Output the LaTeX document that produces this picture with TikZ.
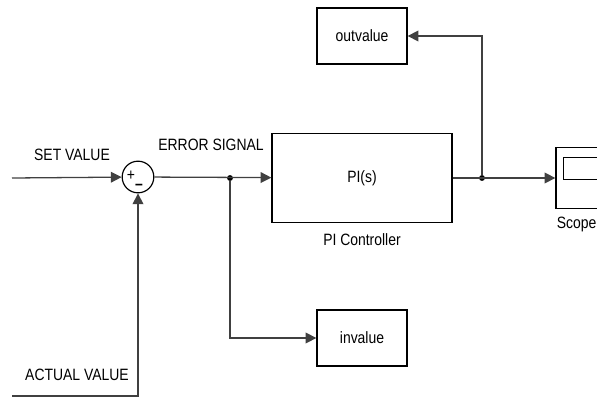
\documentclass[tikz,border=0pt]{standalone}
\usepackage{fontspec}
\setmainfont{Liberation Sans}[FakeStretch=0.85]
\usetikzlibrary{arrows.meta}

\begin{document}
\begin{tikzpicture}[x=0.03cm,y=-0.03cm,
    every node/.style={font=\fontsize{14}{16}\selectfont},
    blk/.style={draw,line width=1.1pt,minimum width=2.7cm,minimum height=1.68cm},
    sig/.style={draw=black!75,line width=1.1pt,-{Triangle[length=0.32cm,width=0.32cm]}},
    dot/.style={circle,fill,inner sep=0pt,minimum size=5pt}]
    \useasboundingbox (0,0) rectangle (597,399);
    \clip (0,0) rectangle (597,399);

    \coordinate (in) at (12,178);
    \coordinate (act) at (12,396);

    \node[circle,draw,line width=1pt,minimum size=0.95cm,inner sep=0pt] (sum) at (138,177) {};
    \node[inner sep=0pt] (plus) at (131,176) {+};
    \node[inner sep=0pt,font=\fontsize{14}{16}\selectfont\bfseries] (minus) at (139,187) {–};

    \node[dot] (j1) at (230,178) {};
    \node[blk,minimum width=5.4cm,minimum height=2.67cm] (pi) at (362,178) {PI(s)};
    \node (pilbl) at (362,240) {PI Controller};
    \node[dot] (j2) at (482,178) {};

    \node[blk,minimum width=1.5cm,minimum height=1.83cm] (scope) at (581,178) {};
    \node[draw,line width=1.1pt,anchor=north west,minimum width=1.08cm,minimum height=0.66cm] (screen) at (563,157) {};
    \node[anchor=north west,inner sep=1pt] (scopelbl) at ([yshift=-0.2cm]scope.south west) {Scope};

    \node[blk] (out) at (362,36) {outvalue};
    \node[blk] (inv) at (362,338) {invalue};

    \node (setv) at (72,155) {SET VALUE};
    \node (err) at (211,145) {ERROR SIGNAL};
    \node (actv) at (77,375) {ACTUAL VALUE};

    \draw[sig] (in) -- (sum);
    \draw[sig] (act) -| (sum);
    \draw[sig] (sum) -- (pi);
    \draw[sig] (j1) |- (inv);
    \draw[sig] (pi) -- (scope);
    \draw[sig] (j2) |- (out);

\end{tikzpicture}
\end{document}
